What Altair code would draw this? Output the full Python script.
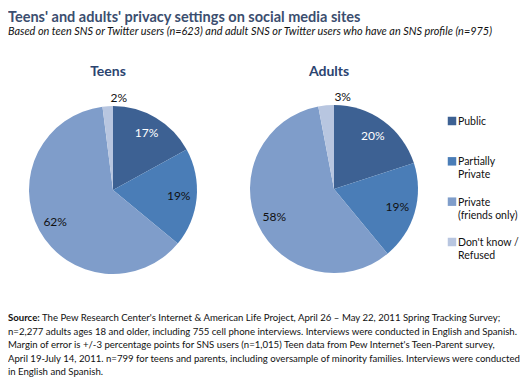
import altair as alt
import pandas as pd

categories = ["Public", "Partially Private", "Private (friends only)", "Don't know / Refused"]
legend_lines = [["Public"], ["Partially", "Private"], ["Private", "(friends only)"], ["Don't know /", "Refused"]]
teens = [17, 19, 62, 2]
adults = [20, 19, 58, 3]
groups = ["Teens", "Adults"]
colors = ["#3d6193", "#4a7db7", "#7f9dca", "#b8c6e0"]

title_text = "Teens' and adults' privacy settings on social media sites"
subtitle_text = "Based on teen SNS or Twitter users (n=623) and adult SNS or Twitter users who have an SNS profile (n=975)"
footer_first = "The Pew Research Center's Internet & American Life Project, April 26 \u2013 May 22, 2011 Spring Tracking Survey;"
footer_lines = [
    "n=2,277 adults ages 18 and older, including 755 cell phone interviews. Interviews were conducted in English and Spanish.",
    "Margin of error is +/-3 percentage points for SNS users (n=1,015) Teen data from Pew Internet's Teen-Parent survey,",
    "April 19-July 14, 2011. n=799 for teens and parents, including oversample of minority families. Interviews were conducted",
    "in English and Spanish.",
]

rows = []
for g, vals in zip(groups, [teens, adults]):
    for i, (c, v) in enumerate(zip(categories, vals)):
        rows.append({"group": g, "category": c, "value": v, "order": i})
df = pd.DataFrame(rows)

legend_df = pd.DataFrame({
    "category": categories,
    "order": list(range(len(categories))),
    "lines": legend_lines,
})

FONT = "Lato"

color_enc = alt.Color(
    "category:N",
    scale=alt.Scale(domain=categories, range=colors),
    sort=categories,
    legend=None,
)

def pie(group, cx, cy):
    b = alt.Chart(df).transform_filter(alt.datum.group == group).transform_calculate(
        label="datum.value + '%'",
        lr="datum.category == \"Don't know / Refused\" ? 92 : 66",
    )
    arc = b.mark_arc(radius=84).encode(
        theta=alt.Theta("value:Q", stack=True),
        color=color_enc,
        order=alt.Order("order:Q"),
        x=alt.value(cx),
        y=alt.value(cy),
    )
    txt = b.mark_text(font=FONT, fontSize=12).encode(
        theta=alt.Theta("value:Q", stack=True),
        radius=alt.Radius("lr:Q", scale=None),
        text="label:N",
        order=alt.Order("order:Q"),
        color=alt.condition(alt.datum.category == "Public", alt.value("#ffffff"), alt.value("#111111")),
        x=alt.value(cx),
        y=alt.value(cy),
    )
    head = alt.Chart(pd.DataFrame({"t": [group]})).mark_text(
        font=FONT, fontSize=14, fontWeight="bold", color="#2b4470", baseline="alphabetic"
    ).encode(text="t:N", x=alt.value(cx - 5), y=alt.value(68))
    return [arc, txt, head]

layers = pie("Teens", 105, 182) + pie("Adults", 326, 181)

ly = alt.Y("order:Q", scale=alt.Scale(domain=[0, 3], range=[113, 234]), axis=None)
leg_sym = alt.Chart(legend_df).mark_square(size=72, opacity=1).encode(
    x=alt.value(444), y=ly, color=color_enc
)
leg_txt = alt.Chart(legend_df).mark_text(
    font=FONT, fontSize=10.5, color="#111111", align="left", baseline="alphabetic", lineHeight=13, dy=4
).encode(x=alt.value(450), y=ly, text="lines")

title = alt.Chart(pd.DataFrame({"t": [title_text]})).mark_text(
    font=FONT, fontSize=14.5, fontWeight="bold", color="#3b4e6f", align="left", baseline="alphabetic"
).encode(text="t:N", x=alt.value(0), y=alt.value(13.5))
subtitle = alt.Chart(pd.DataFrame({"t": [subtitle_text]})).mark_text(
    font=FONT, fontSize=10.9, fontStyle="italic", color="#111111", align="left", baseline="alphabetic"
).encode(text="t:N", x=alt.value(0), y=alt.value(27))

FS = 9.6
src_bold = alt.Chart(pd.DataFrame({"t": ["Source:"]})).mark_text(
    font=FONT, fontSize=FS, fontWeight="bold", color="#111111", align="left", baseline="alphabetic"
).encode(text="t:N", x=alt.value(0), y=alt.value(313))
src_first = alt.Chart(pd.DataFrame({"t": [footer_first]})).mark_text(
    font=FONT, fontSize=FS, color="#111111", align="left", baseline="alphabetic"
).encode(text="t:N", x=alt.value(34), y=alt.value(313))
src_rest = alt.Chart(pd.DataFrame({"t": [0]})).mark_text(
    font=FONT, fontSize=FS, color="#111111", align="left", baseline="alphabetic", lineHeight=13.5,
    text=footer_lines,
).encode(x=alt.value(0), y=alt.value(326.5))

chart = alt.layer(*layers, leg_sym, leg_txt, title, subtitle, src_bold, src_first, src_rest).properties(
    width=513, height=369, padding=0, autosize=alt.AutoSizeParams(type="none"),
    background="#ffffff",
).configure_view(stroke=None)

chart.save("out.html", embed_options={"renderer": "svg", "actions": False})
